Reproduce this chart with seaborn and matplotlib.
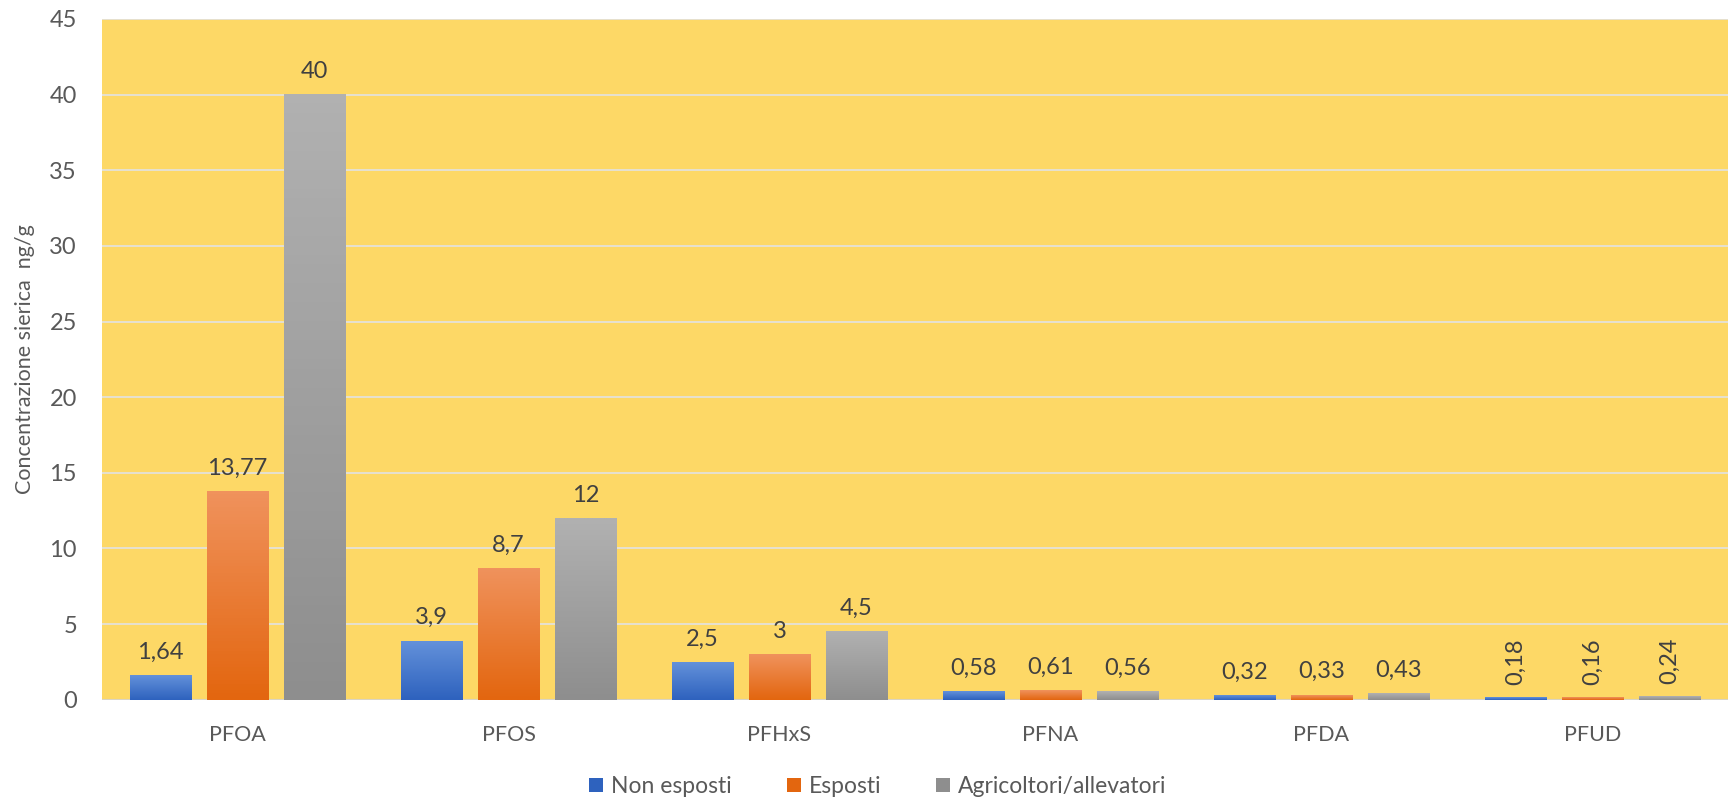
import numpy as np
import pandas as pd
import matplotlib
matplotlib.use("Agg")
import matplotlib.pyplot as plt
from matplotlib.colors import LinearSegmentedColormap
from matplotlib.patches import Patch
import seaborn as sns

# data
compounds = ["PFOA", "PFOS", "PFHxS", "PFNA", "PFDA", "PFUD"]
groups = ["Non esposti", "Esposti", "Agricoltori/allevatori"]
non_esposti = [1.64, 3.9, 2.5, 0.58, 0.32, 0.18]
esposti = [13.77, 8.7, 3.0, 0.61, 0.33, 0.16]
agricoltori = [40, 12, 4.5, 0.56, 0.43, 0.24]

# gradient top/bottom colours per group
grad = {
    "Non esposti": ("#6391DA", "#2E62BE"),
    "Esposti": ("#F0925C", "#E3660F"),
    "Agricoltori/allevatori": ("#B1B1B1", "#8E8E8E"),
}

df = pd.DataFrame({
    "compound": compounds * 3,
    "group": np.repeat(groups, len(compounds)),
    "value": non_esposti + esposti + agricoltori,
})


def fmt(v):
    s = f"{v:.2f}".rstrip("0").rstrip(".")
    return s.replace(".", ",")


sns.set_style("white")
plt.rcParams["font.family"] = ["Lato", "DejaVu Sans"]

fig = plt.figure(figsize=(17.28, 8.08), dpi=100)
ax = fig.add_axes([0.059, 0.134, 0.941, 0.8425])
ax.set_facecolor("#FDD866")

palette = {g: grad[g][1] for g in groups}
sns.barplot(data=df, x="compound", y="value", hue="group", hue_order=groups,
            order=compounds, palette=palette, width=0.85, gap=0.2,
            linewidth=0, legend=False, ax=ax, zorder=3)

ax.set_ylim(0, 45)
ax.set_xlim(-0.5, 5.5)
ax.set_yticks(range(0, 46, 5))
ax.yaxis.grid(True, color="#E6E1D0", linewidth=1.4, zorder=0)
ax.set_axisbelow(True)
for s in ax.spines.values():
    s.set_visible(False)
ax.axhline(0, color="#D9D4C4", linewidth=1.5, zorder=2)

# gradient fills over each bar + value labels
for container, g in zip(ax.containers, groups):
    cmap = LinearSegmentedColormap.from_list(g, [grad[g][1], grad[g][0]])
    for bar in container:
        x, w, h = bar.get_x(), bar.get_width(), bar.get_height()
        img = np.linspace(0, 1, 64).reshape(-1, 1)
        ax.imshow(img, cmap=cmap, origin="lower", aspect="auto",
                  extent=[x, x + w, 0, h], zorder=4)
        bar.set_facecolor("none")
    ax.set_xlim(-0.5, 5.5)
    ax.set_ylim(0, 45)
    vals = [b.get_height() for b in container]
    for bar, v, comp in zip(container, vals, compounds):
        cx = bar.get_x() + bar.get_width() / 2
        if comp == "PFUD":
            ax.annotate(fmt(v), (cx, v), xytext=(0, 9), textcoords="offset points",
                        ha="center", va="bottom", rotation=90,
                        fontsize=17, color="#404040", zorder=5)
        else:
            ax.annotate(fmt(v), (cx, v), xytext=(0, 9), textcoords="offset points",
                        ha="center", va="bottom", fontsize=17,
                        color="#404040", zorder=5)

ax.tick_params(axis="y", length=0, pad=18, labelsize=17, labelcolor="#595959")
ax.tick_params(axis="x", length=0, pad=18, labelsize=15.5, labelcolor="#595959")
ax.set_xlabel("")
ax.set_ylabel("Concentrazione sierica  ng/g", fontsize=15.5, color="#595959", labelpad=10)

handles = [Patch(facecolor=grad[g][1], edgecolor="none", label=g) for g in groups]
fig.legend(handles=handles, loc="lower center", bbox_to_anchor=(0.508, -0.012),
           ncol=3, frameon=False, fontsize=16.5, handlelength=0.6, handleheight=0.6,
           handletextpad=0.35, columnspacing=2.4, labelcolor="#595959")

fig.savefig("out.png", dpi=100)
